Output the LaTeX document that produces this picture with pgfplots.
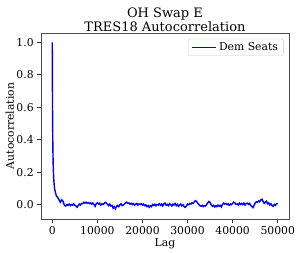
\documentclass[border=0pt]{standalone}
\usepackage{pgfplots}
\pgfplotsset{compat=1.18}
\usepackage{fontspec}
\setmainfont{DejaVu Serif}
\begin{document}
\begin{tikzpicture}
\begin{axis}[
  scale only axis,
  width=248pt, height=186pt,
  xmin=-2500, xmax=52500,
  ymin=-0.088, ymax=1.057,
  xtick={0,10000,20000,30000,40000,50000},
  ytick={0,0.2,0.4,0.6,0.8,1.0},
  yticklabel style={/pgf/number format/.cd,fixed,fixed zerofill,precision=1},
  xticklabel style={/pgf/number format/.cd,fixed,1000 sep={}},
  scaled x ticks=false,
  /pgf/number format/assume math mode=true,
  tick align=outside,
  major tick length=3.8pt,
  xtick pos=bottom, ytick pos=left,
  tick style={black!80, line width=0.8pt},
  axis line style={black!70, line width=0.8pt},
  ticklabel style={font=\fontsize{10.8}{13}\selectfont},
  title={OH Swap E\\TRES18 Autocorrelation},
  title style={at={(0.5,1)}, anchor=south, align=center, inner sep=0pt, yshift=-4.5pt,
    font=\fontsize{13}{13.3}\selectfont},
  xlabel={Lag},
  ylabel={Autocorrelation},
  label style={font=\fontsize{10.8}{13}\selectfont},
  xlabel style={at={(axis description cs:0.5,0)}, anchor=base, yshift=-27.3pt},
  ylabel style={at={(axis description cs:0,0.5)}, anchor=base, yshift=27pt},
  legend style={at={(1,1)}, anchor=north east, xshift=-5.4pt, yshift=-5.8pt,
    draw=black!20, rounded corners=2pt,
    font=\fontsize{10.8}{13}\selectfont, inner xsep=3.5pt, inner ysep=1.5pt,
    /tikz/every even column/.append style={column sep=4pt}},
  legend image post style={xscale=1.4},
  legend cell align=left,
]
\addplot[color=blue, line width=1.4pt] coordinates {
(0,1.0) (25,0.80) (50,0.62) (100,0.43) (150,0.32) (200,0.25) (300,0.17) (400,0.13) (500,0.10) (700,0.075) (900,0.055) (1200,0.045) (1500,0.03) (1800,0.015) (2100,0.03) (2400,0.02) (2700,-0.005)
(3000,-0.008) (3250,0.002) (3500,-0.004) (3750,0.004) (4000,-0.006) (4250,0.001) (4500,-0.003) (4750,0.006)
(5000,-0.004) (5250,-0.008) (5500,-0.016) (5750,-0.006) (6000,0.004) (6250,-0.002) (6500,0.008) (6750,0.006)
(7000,0.015) (7250,0.010) (7500,0.016) (7750,0.009) (8000,0.013) (8250,0.006) (8500,0.012) (8750,0.003)
(9000,0.010) (9250,0.002) (9500,-0.010) (9750,0.006) (10000,0.012) (10250,0.004) (10500,0.009) (10750,-0.002)
(11000,0.006) (11250,0.001) (11500,0.008) (11750,0.015) (12000,0.010) (12250,0.002) (12500,-0.006) (12750,0.004)
(13000,-0.008) (13250,-0.004) (13500,-0.022) (13750,-0.012) (14000,-0.026) (14250,-0.010) (14500,-0.004) (14750,-0.012)
(15000,0.000) (15250,0.006) (15500,-0.006) (15750,-0.002) (16000,0.004) (16250,0.012) (16500,0.016) (16750,0.008)
(17000,0.011) (17250,0.003) (17500,0.009) (17750,0.001) (18000,0.007) (18250,-0.004) (18500,0.004) (18750,0.008)
(19000,-0.002) (19250,0.005) (19500,0.001) (19750,0.006) (20000,-0.003) (20250,0.004) (20500,-0.006) (20750,-0.001)
(21000,-0.012) (21250,-0.005) (21500,-0.016) (21750,-0.006) (22000,-0.012) (22250,0.002) (22500,-0.004) (22750,0.003)
(23000,-0.007) (23250,0.002) (23500,-0.002) (23750,0.006) (24000,-0.004) (24250,0.004) (24500,-0.008) (24750,0.006)
(25000,0.010) (25250,-0.004) (25500,0.002) (25750,-0.006) (26000,0.006) (26250,0.000) (26500,-0.008) (26750,0.004)
(27000,-0.002) (27250,0.007) (27500,-0.006) (27750,0.002) (28000,-0.010) (28250,-0.002) (28500,0.004) (28750,-0.008)
(29000,0.000) (29250,-0.012) (29500,-0.016) (29750,-0.008) (30000,0.004) (30250,0.000) (30500,0.008) (30750,0.004)
(31000,0.012) (31250,0.008) (31500,0.018) (31750,0.025) (32000,0.020) (32250,0.010) (32500,0.002) (32750,-0.006)
(33000,-0.010) (33250,-0.004) (33500,-0.012) (33750,-0.006) (34000,-0.008) (34250,0.002) (34500,0.012) (34750,0.020)
(35000,0.014) (35250,0.000) (35500,-0.010) (35750,-0.004) (36000,-0.014) (36250,-0.006) (36500,-0.012) (36750,-0.002)
(37000,-0.010) (37250,-0.004) (37500,-0.014) (37750,0.002) (38000,0.010) (38250,0.004) (38500,0.008) (38750,0.000)
(39000,0.006) (39250,-0.004) (39500,0.004) (39750,0.000) (40000,0.008) (40250,0.016) (40500,0.010) (40750,0.002)
(41000,0.006) (41250,-0.002) (41500,0.010) (41750,0.002) (42000,0.008) (42250,0.000) (42500,0.010) (42750,-0.002)
(43000,0.006) (43250,0.010) (43500,0.002) (43750,0.008) (44000,-0.004) (44250,-0.010) (44500,-0.018) (44750,-0.004)
(45000,0.010) (45250,0.018) (45500,0.014) (45750,0.024) (46000,0.018) (46250,0.030) (46500,0.034) (46750,0.020)
(47000,0.008) (47250,0.016) (47500,0.022) (47750,0.006) (48000,0.012) (48250,-0.002) (48500,0.006) (48750,-0.006)
(49000,-0.010) (49250,0.002) (49500,-0.004) (49750,0.006) (50000,0.004)
};
\addlegendentry{Dem Seats}
\end{axis}
\pgfresetboundingbox
\path[use as bounding box] ([xshift=-41pt,yshift=-34pt]current axis.south west) rectangle ([xshift=12pt,yshift=33pt]current axis.north east);
\end{tikzpicture}
\end{document}
